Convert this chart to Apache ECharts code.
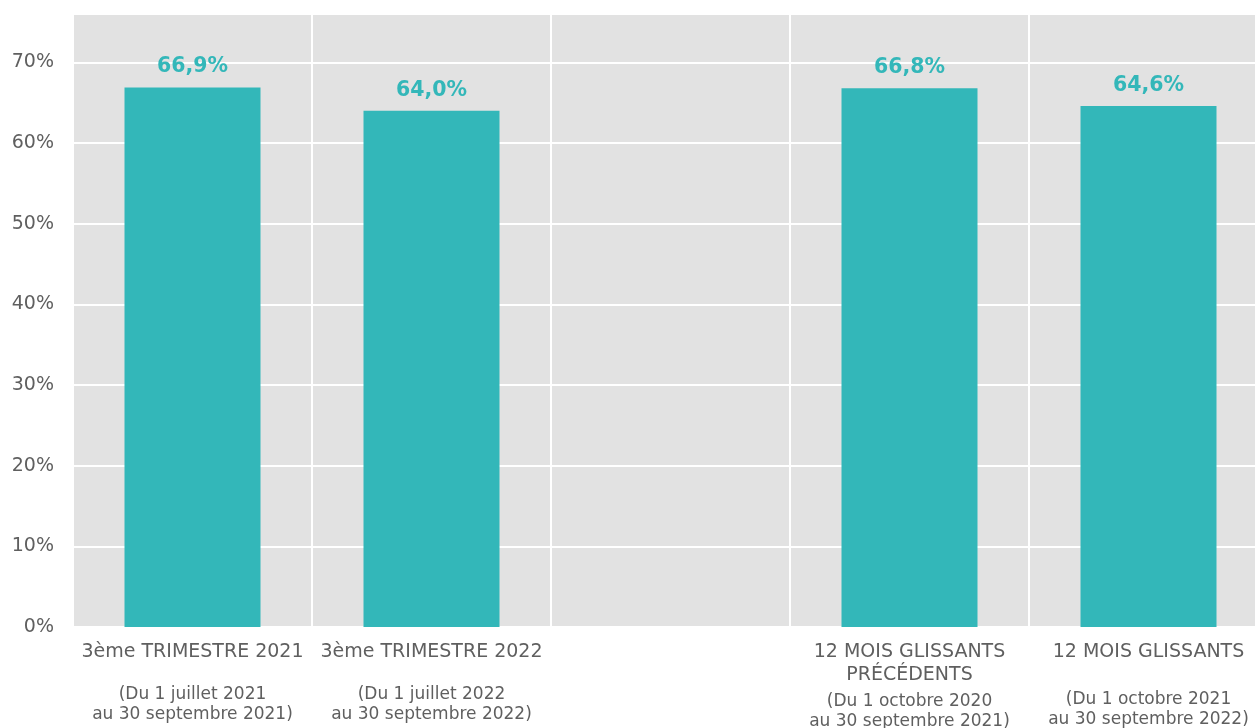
<!DOCTYPE html>
<html>
<head>
<meta charset="utf-8">
<script src="https://cdn.jsdelivr.net/npm/echarts@6/dist/echarts.min.js"></script>
<style>html,body{margin:0;padding:0;background:#fff}#c{width:1255px;height:728px}</style>
</head>
<body>
<div id="c"></div>
<script>
const categories = ['3ème TRIMESTRE 2021', '3ème TRIMESTRE 2022', '', '12 MOIS GLISSANTS\nPRÉCÉDENTS', '12 MOIS GLISSANTS'];
const subtitles = ['(Du 1 juillet 2021\nau 30 septembre 2021)', '(Du 1 juillet 2022\nau 30 septembre 2022)', '', '(Du 1 octobre 2020\nau 30 septembre 2021)', '(Du 1 octobre 2021\nau 30 septembre 2022)'];
const values = [66.9, 64.0, null, 66.8, 64.6];
const valueLabels = ['66,9%', '64,0%', '', '66,8%', '64,6%'];
const yTicks = [0, 10, 20, 30, 40, 50, 60, 70];

const spacers = ['s1', 's1', 's1', 's3', 's2'];

const chart = echarts.init(document.getElementById('c'));
chart.setOption({
  animation: false,
  textStyle: { fontFamily: 'DejaVu Sans' },
  grid: { left: 73, top: 14, width: 1195, bottom: 101, show: true, backgroundColor: '#e2e2e2', borderWidth: 0, containLabel: false, outerBoundsMode: 'none' },
  xAxis: {
    type: 'category',
    data: categories,
    axisLine: { show: false },
    axisTick: { show: false },
    splitLine: { show: true, lineStyle: { color: '#ffffff', width: 2 } },
    axisLabel: {
      interval: 0,
      margin: 14,
      formatter: function (v, i) {
        if (!v) return '';
        const main = v.split('\n').map(s => '{a|' + s + '}').join('\n');
        const sub = subtitles[i].split('\n').map(s => '{b|' + s + '}').join('\n');
        return main + '\n{' + spacers[i] + '| }\n' + sub;
      },
      rich: {
        a: { fontSize: 19, color: '#5f5f5f', lineHeight: 23, fontFamily: 'DejaVu Sans' },
        b: { fontSize: 17, color: '#5f5f5f', lineHeight: 20, fontFamily: 'DejaVu Sans' },
        s1: { fontSize: 5, lineHeight: 21 },
        s2: { fontSize: 5, lineHeight: 26 },
        s3: { fontSize: 5, lineHeight: 5 }
      }
    }
  },
  yAxis: {
    type: 'value',
    min: 0,
    max: 76,
    interval: 10,
    axisLine: { show: false },
    axisTick: { show: false },
    splitLine: { show: true, lineStyle: { color: '#ffffff', width: 2 } },
    axisLabel: {
      margin: 19,
      fontSize: 19,
      color: '#5f5f5f',
      formatter: function (v) { return yTicks.indexOf(v) >= 0 ? v + '%' : ''; }
    }
  },
  series: [{
    type: 'bar',
    data: values,
    barWidth: 136,
    itemStyle: { color: '#33b7b9' },
    label: {
      show: true,
      position: 'top',
      distance: 10,
      color: '#33b7b9',
      fontWeight: 'bold',
      fontSize: 20.5,
      fontFamily: 'DejaVu Sans',
      formatter: function (p) { return valueLabels[p.dataIndex]; }
    }
  }]
});
</script>
</body>
</html>
